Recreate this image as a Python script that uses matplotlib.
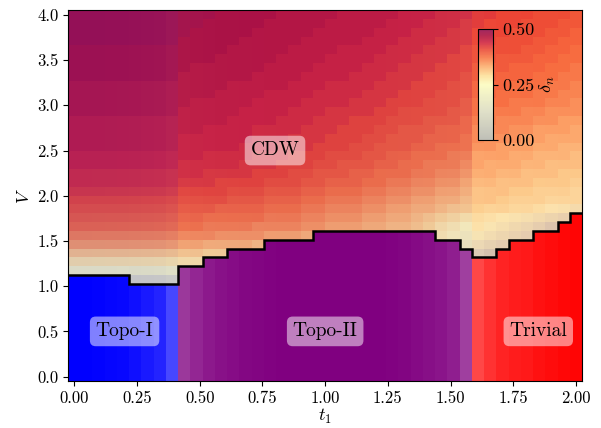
import numpy as np
import matplotlib
matplotlib.use('Agg')
import matplotlib.pyplot as plt
from matplotlib.colors import LinearSegmentedColormap, to_rgb

plt.rcParams['font.family'] = 'serif'
plt.rcParams['font.serif'] = ['cmr10']
plt.rcParams['mathtext.fontset'] = 'cm'
plt.rcParams['axes.formatter.use_mathtext'] = True
plt.rcParams['font.size'] = 12

t1 = np.linspace(0, 2, 42)
V = np.linspace(0, 4, 42)

# topological phase of every t1 column, and how strongly it is coloured
phase = ['Topo-I'] * 9 + ['Topo-II'] * 24 + ['Trivial'] * 9
phase_weight = [1.0, 1.0, 0.99, 0.98, 0.97, 0.94, 0.9, 0.86, 0.72,
                0.78, 0.85, 0.9, 0.93, 0.95, 0.97, 0.98, 0.99, 1.0, 1.0, 1.0,
                1.0, 1.0, 1.0, 1.0, 1.0, 1.0, 0.99, 0.98, 0.96, 0.94, 0.92, 0.88, 0.75,
                0.72, 0.8, 0.86, 0.89, 0.9, 0.93, 0.95, 0.97, 0.98]
# last V index (per column) that is still in the topological phase
top_row = [11] * 5 + [10] * 4 + [12] * 2 + [13] * 2 + [14] * 3 + [15] * 4 + \
          [16] * 10 + [15] * 2 + [14] + [13] * 2 + [14] + [15] * 2 + [16] * 2 + [17] + [18]

# CDW order parameter delta_n (x100), rows from V=4.0 (top) down
delta_rows = """
48 48 48 48 48 48 48 48 48 48 48 48 47 47 47 47 47 46 46 46 46 46 45 45 45 45 45 44 44 44 43 43 43 42 42 41 41 41 40 40 40 39
48 48 48 48 48 48 48 48 48 48 48 47 47 47 47 47 46 46 46 46 46 45 45 45 45 45 44 44 44 43 43 43 42 42 41 41 41 40 40 40 39 39
48 48 48 48 48 48 48 48 48 48 47 47 47 47 47 46 46 46 46 46 45 45 45 45 45 44 44 44 43 43 43 42 42 41 41 41 40 40 40 39 39 38
48 48 48 48 48 48 48 48 48 47 47 47 47 47 46 46 46 46 46 45 45 45 45 45 44 44 44 43 43 43 42 42 42 41 41 40 40 40 39 39 38 38
47 47 47 47 47 47 47 47 47 47 47 47 47 46 46 46 46 46 45 45 45 45 44 44 44 44 43 43 43 42 42 42 41 40 40 40 40 39 39 38 38 37
47 47 47 47 47 47 47 47 47 47 47 47 46 46 46 46 46 45 45 45 45 44 44 44 44 43 43 43 42 42 42 41 41 40 40 39 39 39 38 38 37 37
47 47 47 47 47 47 47 47 47 47 46 46 46 46 46 46 45 45 45 45 44 44 44 44 43 43 43 42 42 42 41 41 41 39 39 39 38 38 38 37 37 36
47 47 47 47 47 47 47 47 47 46 46 46 46 46 46 45 45 45 45 44 44 44 44 43 43 43 42 42 42 41 41 41 40 39 39 38 38 38 37 37 36 36
46 46 46 46 46 46 46 46 46 46 46 46 46 45 45 45 45 45 44 44 44 43 43 43 43 42 42 42 41 41 41 40 40 38 38 38 37 37 37 36 36 35
46 46 46 46 46 46 46 46 46 46 46 46 45 45 45 45 44 44 44 44 43 43 43 43 42 42 42 41 41 41 40 40 40 38 38 37 37 37 36 36 35 35
46 46 46 46 46 46 46 46 46 46 45 45 45 45 45 44 44 44 44 43 43 43 43 42 42 42 41 41 41 40 40 40 39 37 37 37 36 36 36 35 35 34
46 46 46 46 46 46 46 46 46 45 45 45 45 45 44 44 44 44 43 43 43 42 42 42 42 41 41 40 40 40 40 39 39 37 36 36 36 35 35 34 34 34
45 45 45 45 45 45 45 45 45 45 45 45 45 44 44 44 44 43 43 43 42 42 42 41 41 41 40 40 40 39 39 39 38 36 36 35 35 35 34 34 33 33
45 45 45 45 45 45 45 45 45 45 45 44 44 44 44 43 43 43 43 42 42 42 41 41 41 40 40 39 39 39 38 38 38 35 35 35 34 34 33 33 33 32
45 45 45 45 45 45 45 45 45 44 44 44 44 44 44 43 43 43 42 42 42 41 41 41 40 40 39 39 39 38 38 38 37 35 34 34 34 33 33 32 32 32
45 45 45 45 45 45 45 45 45 44 44 44 44 44 43 43 43 42 42 42 41 41 41 40 40 39 39 39 38 38 37 37 37 34 34 33 33 33 32 32 31 31
44 44 44 44 44 44 44 44 44 44 44 43 43 43 43 42 42 42 41 41 41 40 40 40 39 39 38 38 37 37 37 36 36 33 33 33 32 32 31 31 31 30
44 44 44 44 44 44 44 44 44 43 43 43 43 43 42 42 42 41 41 41 40 40 39 39 39 38 38 37 37 36 36 36 35 33 32 32 32 31 31 30 30 30
43 43 43 43 43 43 43 43 43 43 43 42 42 42 42 41 41 41 40 40 39 39 39 38 38 37 37 37 36 36 35 35 34 32 32 31 31 30 30 30 29 29
43 43 43 43 43 43 43 43 43 42 42 42 41 41 41 41 40 40 40 39 39 38 38 38 37 37 36 36 35 35 34 34 33 31 31 30 30 30 29 29 29 28
42 42 42 42 42 42 42 42 42 41 41 41 41 40 40 40 39 39 39 38 38 37 37 37 36 36 35 35 34 34 33 33 32 30 30 30 29 29 28 28 28 27
41 41 41 41 41 41 41 41 41 40 40 40 40 39 39 39 38 38 38 37 37 36 36 36 35 35 34 34 33 33 32 32 31 30 30 29 28 28 28 27 27 27
40 40 40 40 40 40 40 40 40 39 39 39 38 38 38 38 37 37 37 36 36 35 35 35 34 34 33 33 32 32 31 30 30 29 28 28 27 27 26 25 24 22
39 39 39 39 39 39 39 39 39 38 38 37 37 37 37 37 36 36 36 35 35 34 34 34 33 33 32 32 31 30 29 28 27 27 26 25 24 23 21 19 17 0
38 38 38 38 38 38 38 38 38 37 37 36 36 36 36 35 35 35 35 34 34 33 33 33 32 32 31 31 30 29 27 26 25 26 24 22 20 18 16 12 0 0
36 36 36 36 36 36 36 36 36 35 35 35 34 34 34 34 33 33 33 32 0 0 0 0 0 0 0 0 0 0 26 25 23 23 21 19 17 15 0 0 0 0
34 34 34 34 34 34 34 34 34 33 33 32 32 32 32 31 0 0 0 0 0 0 0 0 0 0 0 0 0 0 0 0 21 18 16 14 0 0 0 0 0 0
31 31 31 31 31 31 31 31 31 30 30 29 29 0 0 0 0 0 0 0 0 0 0 0 0 0 0 0 0 0 0 0 0 12 9 0 0 0 0 0 0 0
28 28 28 28 28 28 28 28 28 27 27 0 0 0 0 0 0 0 0 0 0 0 0 0 0 0 0 0 0 0 0 0 0 0 0 0 0 0 0 0 0 0
22 22 22 22 22 21 21 21 21 0 0 0 0 0 0 0 0 0 0 0 0 0 0 0 0 0 0 0 0 0 0 0 0 0 0 0 0 0 0 0 0 0
0 0 0 0 0 12 12 12 12 0 0 0 0 0 0 0 0 0 0 0 0 0 0 0 0 0 0 0 0 0 0 0 0 0 0 0 0 0 0 0 0 0
"""

phase_colors = {'Topo-I': 'blue', 'Topo-II': 'purple', 'Trivial': 'red'}
label_pos = {'CDW': (0.8, 2.5), 'Topo-I': (0.2, 0.5), 'Topo-II': (1.0, 0.5), 'Trivial': (1.85, 0.5)}

# build grids
delta = np.zeros((len(V), len(t1)))
for i, line in enumerate(delta_rows.strip().splitlines()):
    delta[len(V) - 1 - i] = np.array(line.split(), dtype=float) / 100.
rows = np.arange(len(V))[:, None]
mask = rows <= np.array(top_row)[None, :]
delta = np.ma.masked_array(delta, mask)

rgb = np.ones((len(V), len(t1), 3))
for c, (p, w) in enumerate(zip(phase, phase_weight)):
    rgb[:, c, :] = w * np.array(to_rgb(phase_colors[p])) + (1 - w)

cdw_cmap = LinearSegmentedColormap.from_list('cdw', [
    (0.00, '#b8b9b0'), (0.25, '#dcdcc2'), (0.50, '#fcfcc0'), (0.58, '#fde09a'),
    (0.66, '#fcb070'), (0.74, '#f87a48'), (0.82, '#ea4a38'), (0.88, '#d02640'),
    (0.94, '#b0143f'), (1.00, '#951050')])

dt = t1[1] - t1[0]
dv = V[1] - V[0]
ext = [t1[0] - dt / 2, t1[-1] + dt / 2, V[0] - dv / 2, V[-1] + dv / 2]

fig = plt.figure(figsize=(6.01, 4.28), dpi=100)
ax = fig.add_axes([0.1137, 0.1098, 0.8547, 0.8657])
ax.imshow(rgb, origin='lower', extent=ext, aspect='auto', interpolation='nearest')
im = ax.imshow(delta, origin='lower', extent=ext, aspect='auto', interpolation='nearest',
               cmap=cdw_cmap, vmin=0, vmax=0.5, alpha=0.9)

edges = np.r_[t1 - dt / 2, t1[-1] + dt / 2]
ax.stairs(V[top_row] + dv / 2, edges, baseline=None, color='k', lw=1.8)

for name, (x, y) in label_pos.items():
    ax.text(x, y, name, ha='center', va='center', fontsize=14,
            bbox=dict(boxstyle='round,pad=0.3', fc='white', ec='none', alpha=0.5))

ax.set_xlim(ext[0], ext[1])
ax.set_ylim(ext[2], ext[3])
ax.set_xticks(np.arange(0, 2.01, 0.25))
ax.set_yticks(np.arange(0, 4.01, 0.5))
ax.xaxis.set_major_formatter(plt.FormatStrFormatter('%.2f'))
ax.yaxis.set_major_formatter(plt.FormatStrFormatter('%.1f'))
ax.set_xlabel(r'$t_1$', fontsize=13, labelpad=1)
ax.set_ylabel(r'$V$', fontsize=13)

cax = fig.add_axes([0.7953, 0.6729, 0.025, 0.2593])
cb = fig.colorbar(im, cax=cax, ticks=[0, 0.25, 0.5])
cb.ax.yaxis.set_major_formatter(plt.FormatStrFormatter('%.2f'))
cb.ax.tick_params(labelsize=13)
cb.set_label(r'$\delta_n$', fontsize=13, labelpad=2)

fig.savefig('out.png', dpi=100)
